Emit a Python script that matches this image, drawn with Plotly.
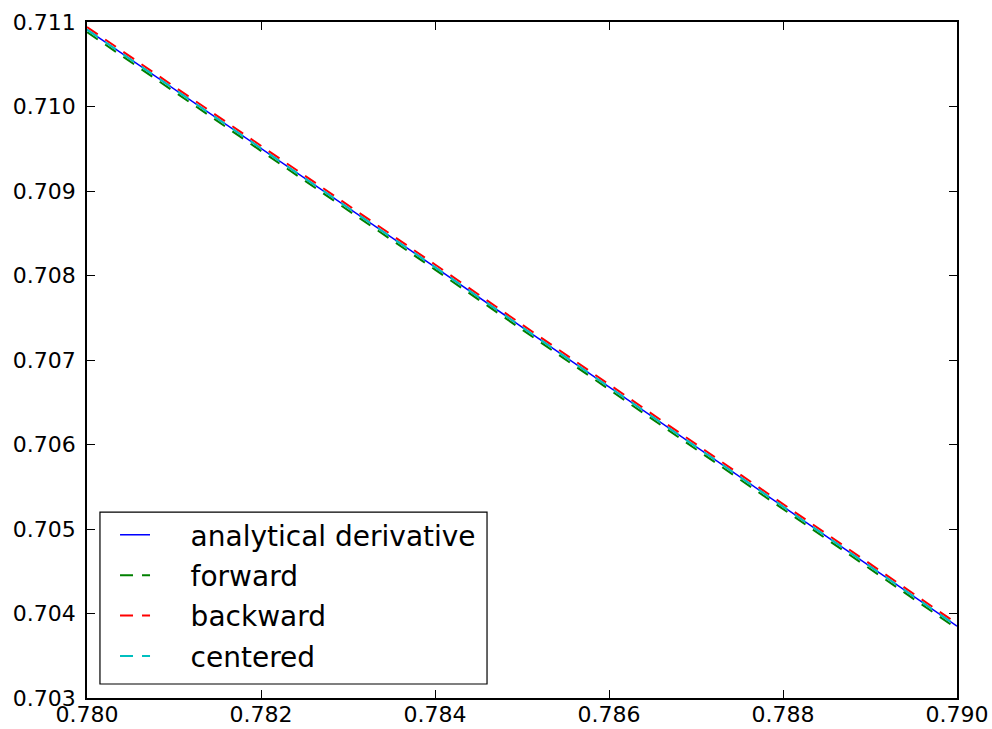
import plotly.graph_objects as go

x = [0.780, 0.781, 0.782, 0.783, 0.784, 0.785, 0.786, 0.787, 0.788, 0.789, 0.790]
analytical = [0.71091, 0.71021, 0.70951, 0.70880, 0.70810, 0.70739, 0.70668, 0.70597, 0.70526, 0.70455, 0.70385]
forward = [0.71088, 0.71018, 0.70948, 0.70877, 0.70807, 0.70736, 0.70665, 0.70594, 0.70523, 0.70452, 0.70382]
backward = [0.71094, 0.71024, 0.70954, 0.70883, 0.70813, 0.70742, 0.70671, 0.70600, 0.70529, 0.70458, 0.70388]
centered = [0.71091, 0.71021, 0.70951, 0.70880, 0.70810, 0.70739, 0.70668, 0.70597, 0.70526, 0.70455, 0.70385]
names = ["analytical derivative", "forward", "backward", "centered"]

pad = "\u00a0" * 4
dash = "13px,9px"
fig = go.Figure()
fig.add_trace(go.Scatter(x=x, y=analytical, mode="lines", name=pad + names[0], legendgroup="a",
                         line=dict(color="#0000ff", width=1.5)))
fig.add_trace(go.Scatter(x=x, y=forward, mode="lines", name=pad + names[1], legendgroup="f",
                         line=dict(color="#008000", width=2, dash=dash)))
fig.add_trace(go.Scatter(x=x, y=backward, mode="lines", name=pad + names[2], legendgroup="b",
                         line=dict(color="#ff0000", width=2, dash=dash)))
fig.add_trace(go.Scatter(x=x, y=centered, mode="lines", name=pad + names[3], legendgroup="c",
                         line=dict(color="#00bfbf", width=2, dash=dash)))

# legend frame
fig.add_shape(type="rect", xref="paper", yref="paper",
              x0=0.0149, x1=0.4598, y0=0.0207, y1=0.2751,
              line=dict(color="black", width=1.2), fillcolor="white", layer="above")

axis_common = dict(showgrid=False, zeroline=False, showline=True, linecolor="black", linewidth=1.5,
                   mirror="allticks", ticks="inside", ticklen=8, tickcolor="black", automargin=False,
                   tickfont=dict(family="DejaVu Sans", size=22, color="black"))
fig.update_layout(
    width=992, height=729,
    margin=dict(l=87, r=35, t=22, b=31),
    paper_bgcolor="white", plot_bgcolor="white",
    xaxis=dict(range=[0.780, 0.790], dtick=0.002, tickformat=".3f", ticklabelstandoff=-4, **axis_common),
    yaxis=dict(range=[0.703, 0.711], dtick=0.001, tickformat=".3f", ticklabelstandoff=5, **axis_common),
    legend=dict(x=0.0322, y=0.278, xanchor="left", yanchor="top",
                borderwidth=0, bgcolor="rgba(0,0,0,0)",
                font=dict(family="DejaVu Sans", size=28, color="black"),
                traceorder="grouped", tracegroupgap=1),
    showlegend=True,
)
fig.write_html("out.html")
